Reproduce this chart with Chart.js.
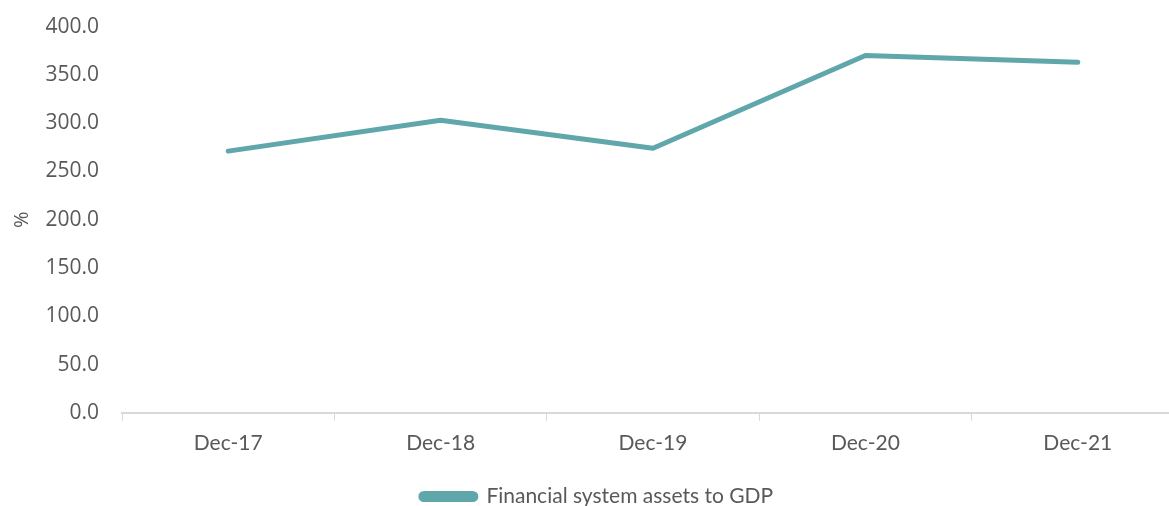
<!DOCTYPE html>
<html>
<head>
<meta charset="utf-8">
<script src="https://cdn.jsdelivr.net/npm/chart.js@4.4.0/dist/chart.umd.min.js"></script>
<style>
  html, body { margin: 0; padding: 0; background: #fff; overflow: hidden; }
  #wrap { width: 1184px; height: 526px; position: relative; margin-top: -9px; }
</style>
</head>
<body>
<div id="wrap"><canvas id="chart"></canvas></div>
<script>
// Data
const periods = ['Dec-17', 'Dec-18', 'Dec-19', 'Dec-20', 'Dec-21'];
const assetsToGdp = [271.0, 303.0, 274.0, 370.0, 363.0];
const seriesName = 'Financial system assets to GDP';

const teal = '#60a7ac';
const textColor = '#595959';
const axisColor = '#d9d9d9';

const ctx = document.getElementById('chart').getContext('2d');

new Chart(ctx, {
    type: 'line',
    data: {
        labels: periods,
        datasets: [{
            label: seriesName,
            data: assetsToGdp,
            borderColor: teal,
            backgroundColor: teal,
            borderWidth: 5,
            pointRadius: 0,
            borderCapStyle: 'round',
            borderJoinStyle: 'round',
            tension: 0,
            fill: false
        }]
    },
    options: {
        responsive: true,
        maintainAspectRatio: false,
        animation: false,
        layout: { padding: { top: 0, left: 10, right: 0, bottom: 0 } },
        plugins: {
            tooltip: { enabled: false },
            legend: {
                position: 'bottom',
                labels: {
                    color: textColor,
                    font: { family: 'Lato', size: 21 },
                    boxWidth: 55,
                    boxHeight: 6,
                    useBorderRadius: true,
                    borderRadius: 3,
                    padding: 20
                }
            }
        },
        scales: {
            x: {
                offset: true,
                grid: {
                    display: true,
                    drawOnChartArea: false,
                    drawTicks: true,
                    tickLength: 8,
                    color: axisColor,
                    offset: true
                },
                border: { display: true, color: axisColor, width: 2 },
                ticks: {
                    color: textColor,
                    font: { family: 'Lato', size: 21 },
                    padding: 10,
                    maxRotation: 0
                }
            },
            y: {
                min: 0,
                max: 400,
                afterFit: scale => { scale.width = 112; },
                ticks: {
                    stepSize: 50,
                    color: textColor,
                    font: { family: 'Open Sans', size: 21 },
                    padding: 23,
                    callback: v => v.toFixed(1)
                },
                grid: { display: false, drawTicks: false },
                border: { display: false },
                title: {
                    display: true,
                    text: '%',
                    color: textColor,
                    font: { family: 'Open Sans', size: 20 },
                    padding: 0
                }
            }
        }
    }
});
</script>
</body>
</html>
